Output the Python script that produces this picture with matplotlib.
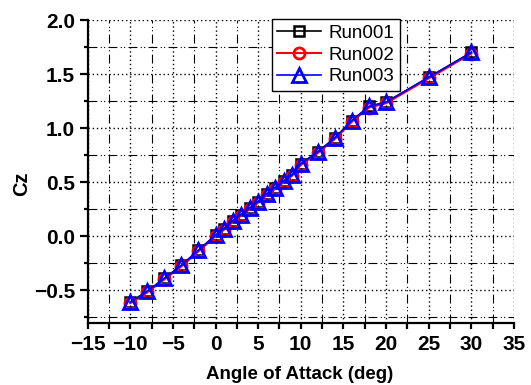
import numpy as np
import matplotlib
matplotlib.use("Agg")
import matplotlib.pyplot as plt
from matplotlib.ticker import MultipleLocator

# angle of attack (deg) and lift coefficient per run
alpha = [-10, -8, -6, -4, -2, 0, 1, 2, 3, 4, 5, 6, 7, 8, 9, 10, 12, 14, 16, 18, 20, 25, 30]
run001 = [-0.61, -0.51, -0.39, -0.27, -0.13, 0.01, 0.07, 0.14, 0.20, 0.26, 0.32,
          0.39, 0.45, 0.51, 0.57, 0.67, 0.78, 0.91, 1.07, 1.20, 1.24, 1.47, 1.70]
run002 = [-0.62, -0.52, -0.40, -0.28, -0.14, 0.00, 0.06, 0.13, 0.19, 0.25, 0.31,
          0.38, 0.44, 0.50, 0.56, 0.66, 0.77, 0.90, 1.06, 1.19, 1.23, 1.46, 1.69]
run003 = [-0.61, -0.51, -0.39, -0.27, -0.13, 0.01, 0.07, 0.14, 0.20, 0.26, 0.32,
          0.39, 0.45, 0.51, 0.57, 0.67, 0.78, 0.91, 1.07, 1.20, 1.24, 1.47, 1.70]

plt.rcParams['font.family'] = ['Liberation Sans', 'DejaVu Sans']

fig = plt.figure(figsize=(5.31, 3.85), dpi=100)
ax = fig.add_axes([0.165, 0.162, 0.803, 0.786])

ax.plot(alpha, run001, color="k", lw=1.2, marker="s", ms=7, mfc="none", mew=1.8, label="Run001")
ax.plot(alpha, run002, color="r", lw=1.5, marker="o", ms=8, mfc="none", mew=2.0, label="Run002")
ax.plot(alpha, run003, color="b", lw=1.2, marker="^", ms=10, mfc="none", mew=2.0, label="Run003")

ax.set_xlim(-15, 35)
ax.set_ylim(-0.8, 2.0)
ax.xaxis.set_major_locator(MultipleLocator(5))
ax.xaxis.set_minor_locator(MultipleLocator(2.5))
ax.yaxis.set_major_locator(MultipleLocator(0.5))
ax.yaxis.set_minor_locator(MultipleLocator(0.25))

ax.grid(which="major", color="k", ls=(0, (1, 2)), lw=1.0)
ax.grid(which="minor", color="k", ls=(0, (8, 3, 1, 2, 1, 3)), lw=0.8)
ax.set_axisbelow(True)

for s in ["top", "right"]:
    ax.spines[s].set_visible(False)
for s in ["left", "bottom"]:
    ax.spines[s].set_linewidth(1.6)

ax.tick_params(axis="x", which="both", direction="out", length=4, width=1.6, pad=5)
ax.tick_params(axis="y", which="major", direction="out", length=6, width=1.6, pad=3)
ax.tick_params(axis="y", which="minor", direction="out", length=3, width=1.6)
for lab in ax.get_xticklabels() + ax.get_yticklabels():
    lab.set_fontsize(15)
    lab.set_fontweight("bold")

ax.set_xlabel("Angle of Attack (deg)", fontsize=13.5, fontweight="bold")
ax.set_ylabel("Cz", fontsize=14.5, fontweight="bold")
ax.xaxis.set_label_coords(0.497, -0.143)
ax.yaxis.set_label_coords(-0.133, 0.458)

leg = ax.legend(loc="upper left", bbox_to_anchor=(0.432, 1.003), borderaxespad=0,
                fontsize=13.5, handlelength=2.3, fancybox=False, framealpha=1,
                edgecolor="k", labelspacing=0.25, borderpad=0.3, handletextpad=0.4)
leg.get_frame().set_linewidth(1.0)

fig.savefig("out.png", dpi=100)
